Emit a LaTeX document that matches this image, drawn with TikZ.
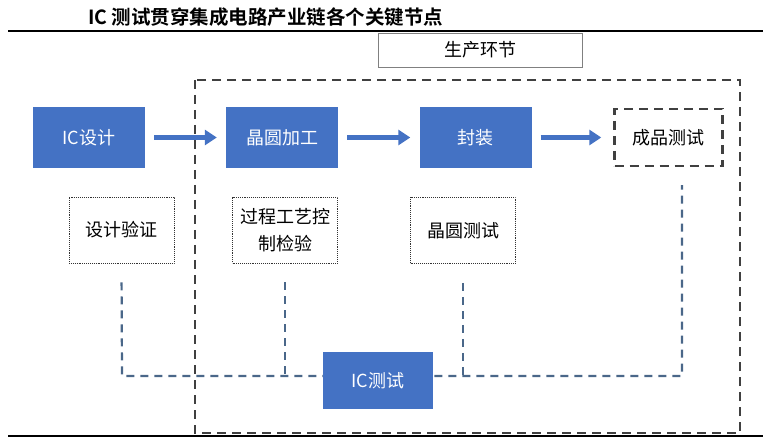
\documentclass[tikz,border=0pt]{standalone}
\usepackage{fontspec}
\setmainfont{Noto Sans CJK SC}[BoldFont={Noto Sans CJK SC Bold}]
\usetikzlibrary{arrows.meta}
\definecolor{icblue}{HTML}{4472C4}
\definecolor{linkblue}{HTML}{4A6789}
\definecolor{framegray}{HTML}{404040}

\begin{document}
\begin{tikzpicture}[x=1pt,y=-1pt]
            \useasboundingbox (0,0) rectangle (780,441);

            \node [anchor=base west,inner sep=0,font=\bfseries\fontsize{19.5}{20}\selectfont] (title) at (88,25) {IC 测试贯穿集成电路产业链各个关键节点};
            \draw [line width=1.2pt] (8,31) -- (763,31);
            \draw [line width=1.2pt] (8,436) -- (763,436);

            \node [draw=gray,line width=0.8pt,minimum width=204pt,minimum height=34pt,font=\fontsize{18}{20}\selectfont] (0) at (480,50) {生产环节};
            \draw [framegray,line width=2.5pt,dash pattern=on 9pt off 6pt] (195,80) rectangle (740,433);

            \begin{scope}[every node/.style={fill=icblue,text=white,minimum width=112pt,minimum height=61pt,font=\fontsize{18}{20}\selectfont}]
                \node (1) at (89,137.5) {IC设计};
                \node (2) at (282,137.5) {晶圆加工};
                \node (3) at (475.5,137.5) {封装};
            \end{scope}
            \node [draw=framegray,line width=2.5pt,dash pattern=on 9pt off 6pt,minimum width=108pt,minimum height=57pt,font=\fontsize{18}{20}\selectfont] (4) at (668.5,137.5) {成品测试};

            \begin{scope}[every node/.style={draw=black!80,densely dotted,line width=0.9pt,minimum width=105pt,minimum height=66pt,align=center,font=\fontsize{18}{27}\selectfont}]
                \node (5) at (121.5,230) {设计验证};
                \node (6) at (285,230) {过程工艺控\\制检验};
                \node (7) at (463,230.5) {晶圆测试};
            \end{scope}

            \begin{scope}[every edge/.style={draw,icblue,line width=5pt,-{Triangle[length=12pt,width=15pt]},shorten <=9pt,shorten >=9pt}]
                \path
                    (1) edge (2)
                    (2) edge (3)
                    (3) edge [shorten >=12pt] (4);
            \end{scope}

            \coordinate (j5) at (122,376);
            \coordinate (j4) at (682,376);
            \begin{scope}[every path/.style={draw,linkblue,line width=2.2pt,dash pattern=on 8pt off 6pt}]
                \path [shorten <=19pt,shorten >=18pt] (5.south) -- (j5) -- (j4) -- (4.south -| j4);
                \path [shorten <=19pt] (6.south) -- (6.south |- j5);
                \path [shorten <=19pt] (7.south) -- (7.south |- j5);
            \end{scope}

            \node [fill=icblue,text=white,minimum width=110pt,minimum height=57pt,font=\fontsize{18}{20}\selectfont] (8) at (378,380.5) {IC测试};
        \end{tikzpicture}
\end{document}
